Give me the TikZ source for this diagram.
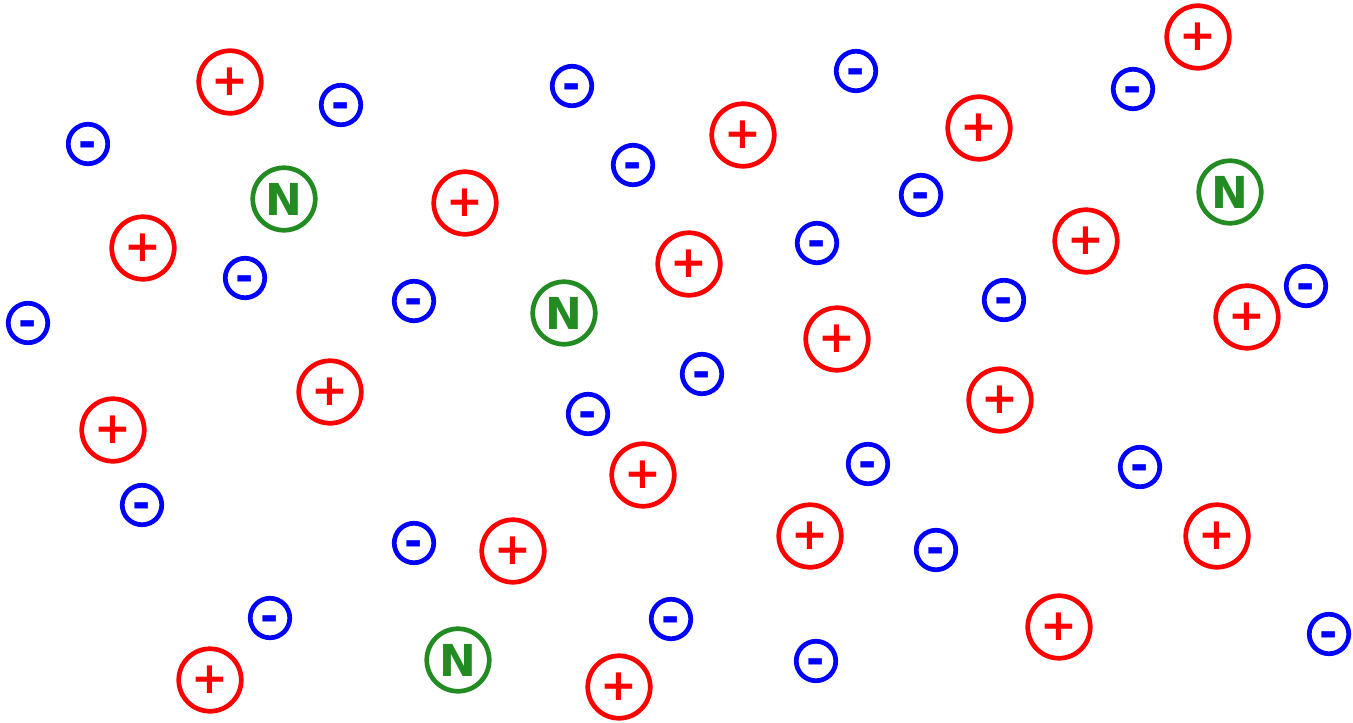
\documentclass[tikz,border=0pt]{standalone}
\usepackage{fontspec}
\newfontfamily\ionfont{DejaVu Sans}[BoldFont={DejaVu Sans Bold}]
\definecolor{posred}{RGB}{255,0,0}
\definecolor{negblue}{RGB}{0,0,255}
\definecolor{neugreen}{RGB}{34,139,34}
\tikzset{
  ionbase/.style={circle, inner sep=0pt, line width=4.7pt, font=\ionfont\bfseries\fontsize{44}{44}\selectfont},
  posion/.style={ionbase, draw=posred, text=posred, minimum size=62.5pt},
  negion/.style={ionbase, draw=negblue, text=negblue, minimum size=39.5pt},
  neuatom/.style={ionbase, draw=neugreen, text=neugreen, minimum size=62.5pt},
}
\newcommand{\plusion}[3]{\node[posion] (#1) at (#2,#3) {+};}
\newcommand{\minusion}[3]{\node[negion] (#1) at (#2,#3) {\smash{\raisebox{-0.3em}{-}}};}
\newcommand{\neuion}[3]{\node[neuatom] (#1) at (#2,#3) {N};}
\begin{document}
\begin{tikzpicture}[x=1pt,y=-1pt]
\useasboundingbox (0,0) rectangle (1353,723);
% positive ions
\plusion{p1}{230}{82}
\plusion{p2}{143}{248}
\plusion{p3}{465}{203}
\plusion{p4}{743}{135}
\plusion{p5}{689}{264}
\plusion{p6}{979}{128}
\plusion{p7}{1198}{37}
\plusion{p8}{1086}{241}
\plusion{p9}{1247}{317}
\plusion{p10}{837}{339}
\plusion{p11}{330}{392}
\plusion{p12}{113}{430}
\plusion{p13}{643}{475}
\plusion{p14}{1000}{400}
\plusion{p15}{513}{551}
\plusion{p16}{810}{536}
\plusion{p17}{1217}{536}
\plusion{p18}{1059}{627}
\plusion{p19}{210}{680}
\plusion{p20}{619}{687}
% negative ions
\minusion{m1}{88}{144}
\minusion{m2}{341}{105}
\minusion{m3}{572}{86}
\minusion{m4}{856}{71}
\minusion{m5}{1133}{89}
\minusion{m6}{633}{165}
\minusion{m7}{921}{195}
\minusion{m8}{817}{243}
\minusion{m9}{245}{278}
\minusion{m10}{414}{301}
\minusion{m11}{28}{323}
\minusion{m12}{1004}{300}
\minusion{m13}{1306}{286}
\minusion{m14}{702}{374}
\minusion{m15}{588}{414}
\minusion{m16}{868}{464}
\minusion{m17}{1140}{467}
\minusion{m18}{142}{505}
\minusion{m19}{414}{543}
\minusion{m20}{936}{550}
\minusion{m21}{270}{618}
\minusion{m22}{671}{619}
\minusion{m23}{816}{661}
\minusion{m24}{1329}{634}
% neutral atoms
\neuion{n1}{284}{199}
\neuion{n2}{564}{313}
\neuion{n3}{1230}{192}
\neuion{n4}{458}{660}
\end{tikzpicture}
\end{document}
